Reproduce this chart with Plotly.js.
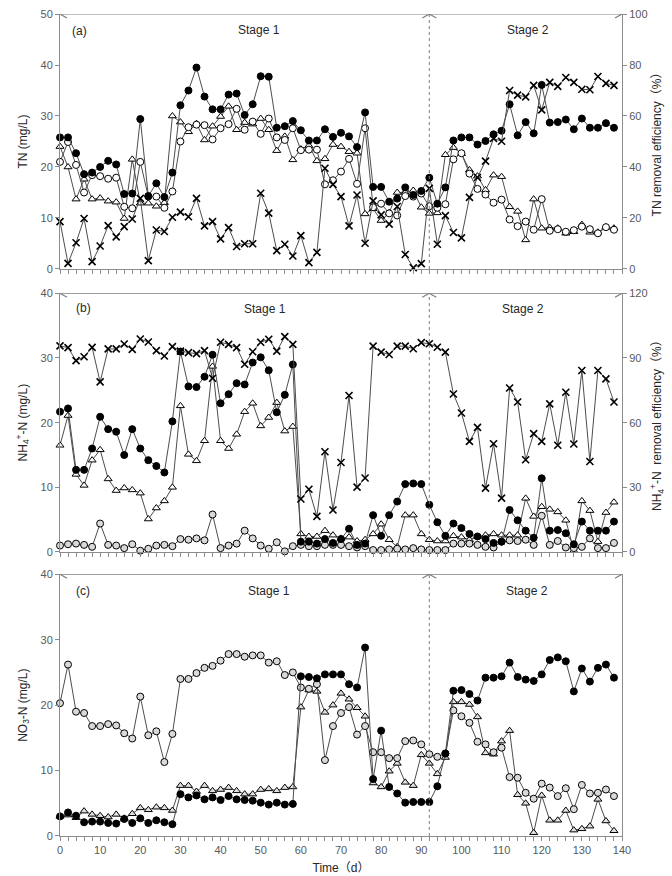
<!DOCTYPE html>
<html>
<head>
<meta charset="utf-8">
<script src="https://cdn.plot.ly/plotly-3.0.1.min.js"></script>
<style>html,body{margin:0;padding:0;background:#fff}#chart{width:672px;height:876px}</style>
</head>
<body>
<div id="chart"></div>
<script>
// Sampling days
const days = [0,2,4,6,8,10,12,14,16,18,20,22,24,26,28,30,32,34,36,38,40,42,44,46,48,50,52,54,56,58,60,62,64,66,68,70,72,74,76,78,80,82,84,86,88,90,92,94,96,98,100,102,104,106,108,110,112,114,116,118,120,122,124,126,128,130,132,134,136,138];

// Stage boundaries (days)
const stageBounds = [0, 92, 140];
const stageNames = ["Stage 1", "Stage 2"];

// (a) TN (mg/L) and TN removal efficiency (%)
const tnFilled = [25.8,25.8,22.7,18.6,18.9,20.0,21.2,20.5,14.7,14.8,
  29.4,14.3,16.8,14.1,18.9,32.1,35.0,39.5,33.8,31.3,
  31.3,34.2,34.4,30.2,32.3,37.8,37.7,27.7,28.0,29.0,
  27.2,25.2,25.2,27.4,25.9,26.7,26.0,23.9,30.7,16.1,
  16.1,13.2,13.8,16.0,14.5,15.3,17.9,12.8,16.0,25.2,
  25.8,25.8,24.4,25.1,26.4,27.1,32.3,26.2,28.8,26.6,
  36.1,28.7,28.8,29.3,27.4,29.5,27.7,27.7,28.6,27.7];
const tnOpen = [21.0,24.9,20.4,15.0,18.4,18.2,17.7,17.9,12.2,11.9,
  21.0,14.2,14.2,12.0,15.2,25.0,27.8,28.3,28.2,25.4,
  27.6,28.4,31.4,27.3,28.9,26.5,29.5,25.8,25.3,27.6,
  23.3,23.4,23.4,16.6,17.4,19.1,21.6,16.7,27.6,12.1,
  12.8,10.9,10.5,14.3,14.2,14.8,12.3,12.0,12.7,21.5,
  22.7,18.7,15.7,14.6,13.0,13.6,9.7,8.4,9.3,7.7,
  13.7,7.5,7.8,7.3,7.6,8.3,7.8,7.0,8.2,7.7];
const tnTri = [24.0,20.0,13.7,17.6,13.7,13.9,13.3,13.1,9.9,21.5,
  12.9,12.9,12.3,13.0,30.0,28.8,26.9,28.5,25.3,28.0,
  29.9,31.9,27.3,28.7,28.4,29.5,27.3,23.2,26.0,21.4,
  23.5,24.2,21.2,21.6,24.4,24.0,23.0,22.7,10.8,11.8,
  9.5,11.0,15.0,15.0,15.4,12.1,10.9,11.0,22.4,23.8,
  22.6,19.4,18.2,15.5,18.4,18.1,12.2,11.3,5.7,13.7,
  8.0,8.1,8.0,7.0,7.3,8.7,7.2,7.2,8.2,8.0];
const tnRemoval = [18.6,2.2,10.3,19.8,2.9,9.0,17.0,12.6,16.6,19.6,
  27.7,3.3,15.3,14.7,20.3,22.3,20.5,27.7,16.9,18.6,
  11.8,16.2,8.8,9.9,9.9,29.7,21.9,7.2,9.7,5.1,
  13.1,2.5,6.5,39.5,33.2,28.4,16.9,29.0,10.1,26.7,
  21.2,17.6,24.5,5.7,0.5,2.1,31.6,9.7,20.9,14.3,
  12.2,28.1,35.9,42.3,51.2,50.1,70.0,68.2,67.5,72.0,
  62.4,73.2,71.6,75.1,73.2,70.5,70.3,75.5,72.8,72.0];

// (b) NH4+-N (mg/L) and NH4+-N removal efficiency (%)
const nhFilled = [21.7,22.2,12.7,12.7,16.0,20.9,19.0,18.6,15.0,19.0,
  16.0,14.2,13.3,12.3,20.2,31.0,25.6,25.5,27.1,30.5,
  23.0,24.4,26.1,25.9,29.3,30.1,28.1,21.6,24.3,29.0,
  1.6,1.6,1.3,2.0,1.4,2.0,3.6,1.1,1.3,5.7,
  2.5,5.7,7.8,10.5,10.6,10.5,7.3,4.6,2.5,4.4,
  3.7,2.8,2.4,2.0,1.4,1.6,6.5,4.9,3.3,2.2,
  11.4,3.3,3.4,2.9,1.2,4.7,3.3,3.3,3.3,4.7];
const nhTri = [16.5,21.1,12.0,10.3,14.2,15.8,11.3,9.5,9.9,9.6,
  9.1,5.1,6.8,7.9,10.0,22.6,15.1,14.1,17.2,28.7,
  17.2,16.0,18.2,21.7,23.0,19.5,20.8,23.1,18.7,19.4,
  2.8,2.4,2.4,3.3,2.6,2.1,2.3,1.7,1.9,2.8,
  4.3,1.9,0.8,5.7,5.7,2.8,1.9,1.7,1.7,2.5,
  2.3,1.9,2.4,2.6,2.8,2.6,2.6,2.6,8.3,5.5,
  7.0,6.6,6.2,4.9,0.2,7.9,6.4,1.6,6.1,7.7];
const nhOpen = [1.0,1.2,1.3,1.1,0.8,4.4,1.1,1.0,0.6,1.2,
  0.2,0.5,1.0,1.1,0.9,2.0,1.9,2.1,1.8,5.8,
  0.6,1.0,1.3,3.3,2.1,1.0,0.5,1.5,0.1,0.9,
  1.1,0.9,0.9,1.1,1.1,1.1,0.9,0.7,0.9,0.3,
  0.3,0.4,0.5,0.4,0.6,0.4,0.3,0.3,0.3,1.3,
  1.3,1.3,1.1,0.8,0.7,1.6,1.8,1.7,1.9,1.1,
  5.6,1.1,1.7,0.7,0.6,0.8,2.1,0.6,0.6,1.4];
const nhRemoval = [95.6,94.8,88.8,90.6,94.9,78.9,94.2,94.2,96.5,94.0,
  98.8,97.4,93.4,90.9,95.3,93.2,92.5,92.0,93.4,80.6,
  97.3,96.3,94.8,87.1,92.9,97.3,98.7,93.2,99.9,96.3,
  24.6,29.1,16.5,46.5,19.5,41.5,72.6,30.1,34.3,95.5,
  92.7,91.6,95.5,95.5,94.3,97.1,96.6,95.0,92.7,73.3,
  64.5,51.3,57.8,29.6,50.2,25.0,76.1,69.6,42.8,54.9,
  51.3,68.7,49.5,74.1,50.1,84.2,42.0,84.2,80.3,69.6];

// (c) NO3-N (mg/L)
const noFilled = [3.0,3.6,3.1,2.1,2.2,2.2,2.0,1.9,2.6,2.0,
  2.7,2.0,2.4,2.1,1.8,6.4,5.9,6.2,5.6,5.9,
  5.5,6.1,5.6,5.5,5.4,5.1,4.8,5.1,4.8,4.9,
  24.4,24.3,24.1,24.7,24.7,24.7,23.2,22.7,28.8,8.7,
  16.1,7.5,6.5,5.1,5.2,5.2,5.2,7.6,12.6,22.2,
  22.3,21.7,20.7,24.2,24.2,24.4,26.5,24.3,23.9,23.7,
  24.7,26.9,27.3,26.7,22.1,25.6,23.6,25.7,26.2,24.2];
const noOpen = [20.3,26.2,19.0,18.8,16.8,16.8,17.1,16.9,15.7,14.9,
  21.3,15.4,16.0,11.3,15.6,24.0,24.0,24.9,25.7,26.0,
  26.8,27.8,27.8,27.4,27.6,27.6,26.5,26.7,24.6,25.0,
  22.7,22.5,23.2,11.6,16.8,18.8,19.7,15.5,16.8,12.8,
  12.8,11.9,11.9,14.5,14.6,14.0,12.5,12.1,12.6,19.2,
  18.3,17.3,14.4,14.0,12.8,13.5,9.0,8.9,6.6,5.7,
  8.0,7.4,6.1,7.3,4.1,7.8,6.5,6.6,7.1,6.1];
const noTri = [3.0,3.2,2.8,3.8,3.3,3.1,2.9,3.3,2.7,3.4,
  4.3,4.0,4.4,4.3,3.9,7.7,7.7,6.8,7.7,6.9,
  7.1,7.4,6.9,6.4,6.4,7.1,7.2,6.9,7.4,7.5,
  19.7,22.3,22.1,18.9,20.0,21.8,20.9,19.6,18.3,8.1,
  7.5,9.9,11.1,8.2,7.7,12.4,11.1,9.5,12.0,20.5,
  20.5,20.1,18.2,12.7,12.5,14.5,16.1,6.3,5.0,0.5,
  6.2,2.4,2.4,3.9,0.9,1.1,1.5,5.6,2.3,0.8];

const FONT = 'Liberation Sans, Arial, Noto Sans CJK SC, sans-serif';
const LINE = '#4d4d4d';
const AX = '#8c8c8c';
const TICKC = '#595959';

function tr(y, xa, ya, sym, fill, size, name) {
  const isX = sym === 'x-thin-open';
  return {
    x: days, y: y, xaxis: xa, yaxis: ya, type: 'scatter', mode: 'lines+markers', name: name,
    cliponaxis: false,
    line: {color: LINE, width: 1},
    marker: {symbol: sym, size: size, color: isX ? '#000' : fill,
             line: {color: '#000', width: isX ? 1.6 : 1}}
  };
}

const data = [
  tr(tnRemoval, 'x', 'y2', 'x-thin-open', '#000', 7, 'TN removal'),
  tr(tnTri, 'x', 'y', 'triangle-up', '#fff', 7, 'TN triangle'),
  tr(tnOpen, 'x', 'y', 'circle', '#fff', 7, 'TN open'),
  tr(tnFilled, 'x', 'y', 'circle', '#000', 7, 'TN filled'),

  tr(nhRemoval, 'x2', 'y4', 'x-thin-open', '#000', 7, 'NH4 removal'),
  tr(nhTri, 'x2', 'y3', 'triangle-up', '#fff', 7, 'NH4 triangle'),
  tr(nhOpen, 'x2', 'y3', 'circle', '#d9d9d9', 7, 'NH4 open'),
  tr(nhFilled, 'x2', 'y3', 'circle', '#000', 7, 'NH4 filled'),

  tr(noTri, 'x3', 'y5', 'triangle-up', '#e0e0e0', 7, 'NO3 triangle'),
  tr(noOpen, 'x3', 'y5', 'circle', '#d9d9d9', 7, 'NO3 open'),
  tr(noFilled, 'x3', 'y5', 'circle', '#000', 7, 'NO3 filled')
];

const tickFont = {family: FONT, size: 11, color: TICKC};
const titleFont = {family: FONT, size: 12, color: '#262626'};

function xax(anchor, labels) {
  const o = {
    domain: [0, 1], anchor: anchor, range: [stageBounds[0], stageBounds[2]],
    showline: true, linecolor: AX, linewidth: 1, showgrid: false, zeroline: false,
    ticks: 'outside', ticklen: 4, tickcolor: AX, tickfont: tickFont
  };
  if (labels) {
    o.dtick = 10; o.tick0 = 0; o.showticklabels = true;
    o.minor = {dtick: 2, ticks: 'outside', ticklen: 4, tickcolor: AX};
    o.title = {text: 'Time（d）', font: titleFont, standoff: 8};
  } else {
    o.dtick = 2; o.tick0 = 0; o.showticklabels = false;
  }
  return o;
}
function yax(domain, anchor, range, dtick, title, side, overlay, mirror) {
  const o = {
    anchor: anchor, range: range, dtick: dtick, side: side || 'left',
    showline: true, linecolor: AX, linewidth: 1, showgrid: false, zeroline: false,
    ticks: 'outside', ticklen: 4, tickcolor: AX, tickfont: tickFont,
    title: {text: title, font: titleFont, standoff: side === 'right' ? 6 : 10},
    automargin: false
  };
  if (domain) o.domain = domain;
  if (overlay) o.overlaying = overlay;
  if (mirror) o.mirror = true;
  return o;
}

const panels = [
  {xref: 'x', yref: 'y', top: 50, label: '(a)', ly: 46.7, sy: 46.9},
  {xref: 'x2', yref: 'y3', top: 40, label: '(b)', ly: 37.7, sy: 37.6},
  {xref: 'x3', yref: 'y5', top: 40, label: '(c)', ly: 37.4, sy: 37.4}
];
const stageTextX = [[49.5, 116.7], [51, 115.4], [52, 116.4]];

const shapes = [];
const annotations = [];
panels.forEach((p, i) => {
  // divider
  shapes.push({type: 'line', xref: p.xref, yref: p.yref, x0: stageBounds[1], x1: stageBounds[1], y0: 0, y1: p.top,
    line: {color: '#7f7f7f', width: 1, dash: 'dot'}});
  // top arrow line
  shapes.push({type: 'line', xref: p.xref, yref: p.yref, x0: stageBounds[0], x1: stageBounds[2], y0: p.top, y1: p.top,
    line: {color: '#7f7f7f', width: 1.2}});
  const heads = [
    [stageBounds[0], 'M 7,4 L 0,0 L 7,-4'],
    [stageBounds[1], 'M -7,4 L 0,0 L -7,-4'],
    [stageBounds[1], 'M 7,4 L 0,0 L 7,-4'],
    [stageBounds[2], 'M -7,4 L 0,0 L -7,-4']
  ];
  heads.forEach(h => shapes.push({type: 'path', xref: p.xref, yref: p.yref, xsizemode: 'pixel', ysizemode: 'pixel',
    xanchor: h[0], yanchor: p.top, path: h[1], line: {color: '#7f7f7f', width: 1.2}}));
  annotations.push({xref: p.xref, yref: p.yref, x: i === 0 ? 4.8 : 5.8, y: p.ly, text: p.label, showarrow: false,
    font: {family: FONT, size: 12, color: '#262626'}});
  stageNames.forEach((s, k) => annotations.push({xref: p.xref, yref: p.yref, x: stageTextX[i][k], y: p.sy, text: s,
    showarrow: false, font: {family: FONT, size: 12, color: '#262626'}}));
});

const layout = {
  width: 672, height: 876,
  margin: {l: 60, r: 50, t: 14, b: 40},
  paper_bgcolor: '#fff', plot_bgcolor: '#fff',
  showlegend: false,
  font: {family: FONT},
  xaxis: xax('y', false),
  xaxis2: xax('y3', false),
  xaxis3: xax('y5', true),
  yaxis: yax([0.6898, 1], 'x', [0, 50], 10, 'TN (mg/L)'),
  yaxis2: yax(null, 'x', [0, 100], 20, 'TN removal efficiency（%）', 'right', 'y'),
  yaxis3: yax([0.3455, 0.6602], 'x2', [0, 40], 10, 'NH<sub>4</sub><sup>+</sup>-N (mg/L)'),
  yaxis4: yax(null, 'x2', [0, 120], 30, 'NH<sub>4</sub><sup>+</sup>-N  removal efficiency（%）', 'right', 'y3'),
  yaxis5: yax([0, 0.3184], 'x3', [0, 40], 10, 'NO<sub>3</sub>-N (mg/L)', 'left', null, true),
  shapes: shapes,
  annotations: annotations
};

Plotly.newPlot('chart', data, layout, {displayModeBar: false, staticPlot: true});
</script>
</body>
</html>
